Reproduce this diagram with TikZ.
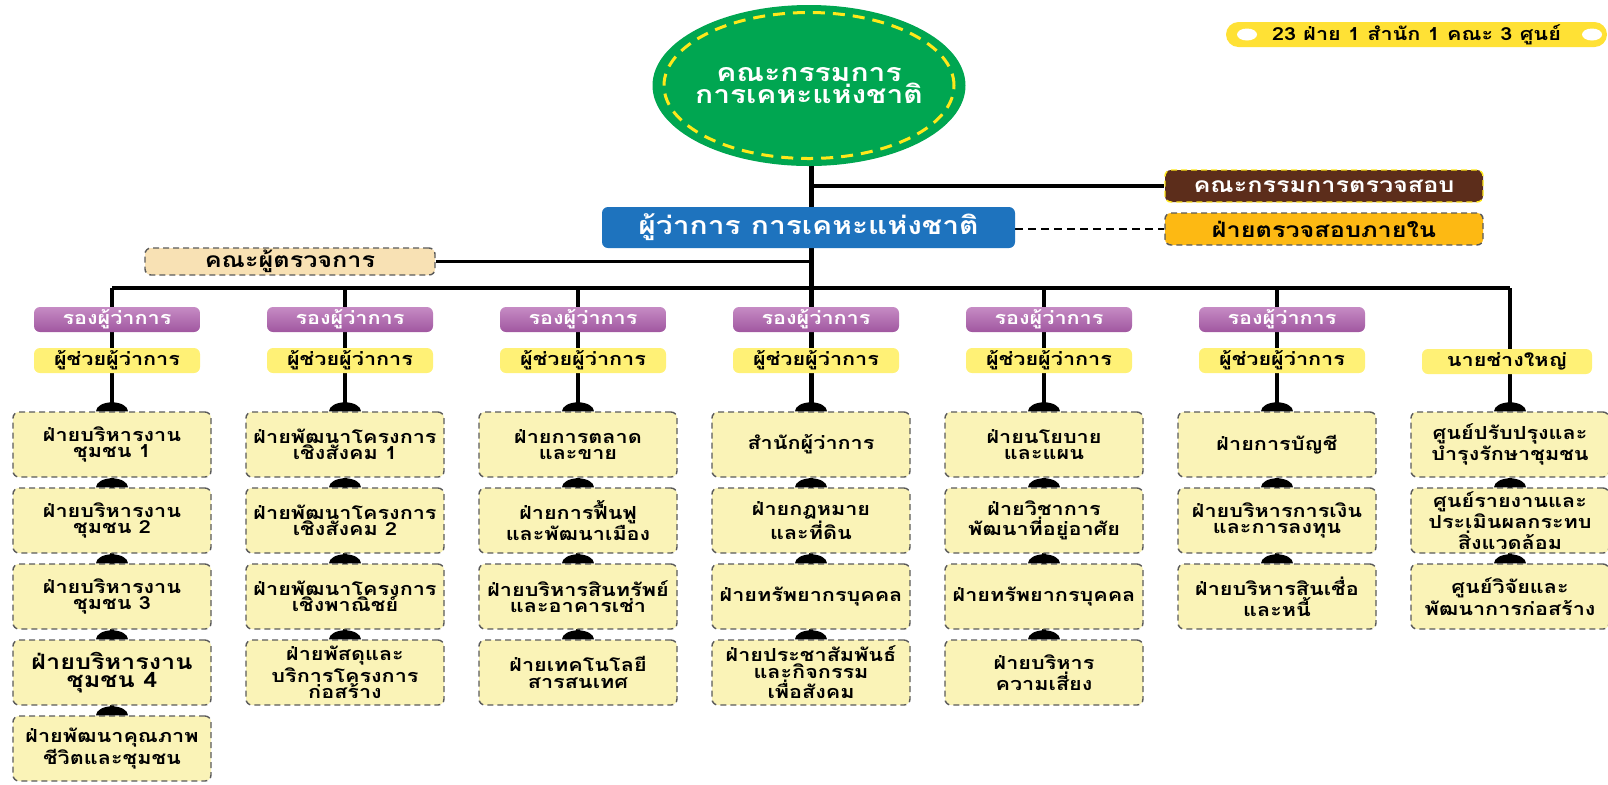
\documentclass[tikz,border=0pt]{standalone}
\usepackage{fontspec}
\newfontfamily\thai[Script=Thai,FakeStretch=1.2]{Loma}
\usetikzlibrary{backgrounds}
\definecolor{colorgr}{HTML}{00A651}
\definecolor{colorys}{HTML}{FFE81A}
\definecolor{colorbl}{HTML}{1E73BE}
\definecolor{colorbr}{HTML}{5C2D1B}
\definecolor{colorin}{HTML}{FDB913}
\definecolor{colorip}{HTML}{F8E1B4}
\definecolor{colorvt}{HTML}{C68BC4}
\definecolor{colorvb}{HTML}{A057A0}
\definecolor{coloras}{HTML}{FFF176}
\definecolor{colordp}{HTML}{FAF3B7}
\definecolor{colordh}{HTML}{5A5A5A}
\definecolor{colorpl}{HTML}{FFE135}
\tikzset{
  boxdept/.style={draw=colordh, dash pattern=on 3pt off 2pt, line width=0.7pt, fill=colordp,
    rounded corners=3pt, minimum width=99pt, minimum height=32.5pt, align=center, inner sep=1pt,
    font=\thai\bfseries\fontsize{9}{8.2}\selectfont},
  boxvice/.style={rounded corners=3pt, top color=colorvt, bottom color=colorvb, minimum width=83pt,
    minimum height=12.5pt, inner sep=0pt, text=white, font=\thai\bfseries\fontsize{9}{9}\selectfont},
  boxasst/.style={rounded corners=3pt, fill=coloras, minimum width=83pt, minimum height=12.5pt,
    inner sep=0pt, font=\thai\bfseries\fontsize{9}{9}\selectfont},
  boxaudit/.style={rounded corners=3pt, dash pattern=on 3pt off 2pt, line width=0.7pt,
    minimum width=159pt, minimum height=16pt, inner sep=0pt},
  edgeln/.style={black, line width=2pt},
  edgedash/.style={black, line width=0.8pt, dash pattern=on 4pt off 2.5pt}
}
\newcommand\capdome[1]{\fill ([xshift=-8pt]#1) arc[start angle=180, end angle=0, x radius=8pt, y radius=4.5pt];}

\begin{document}
\begin{tikzpicture}[x=0.5pt, y=-0.5pt]
\useasboundingbox (0,0) rectangle (1608,784);

\fill[colorgr] (809,85.5) ellipse[x radius=78.25pt, y radius=40.25pt];
\draw[colorys, line width=1.5pt, dash pattern=on 6pt off 4pt] (809,85.5) ellipse[x radius=72.5pt, y radius=36.5pt];
\node[align=center, text=white, font=\thai\bfseries\fontsize{12.5}{11}\selectfont] (c) at (809,85.5)
  {คณะกรรมการ\\การเคหะแห่งชาติ};

\node[rounded corners=6.25pt, fill=colorpl, minimum width=190.5pt, minimum height=12.5pt, inner sep=0pt,
  font=\thai\bfseries\fontsize{9}{9}\selectfont] (n) at (1416.5,34.5) {23 ฝ่าย 1 สำนัก 1 คณะ 3 ศูนย์};
\fill[white] (1247,34.5) ellipse[x radius=5pt, y radius=3pt];
\fill[white] (1592,34.5) ellipse[x radius=5pt, y radius=3pt];

\node[rounded corners=3pt, fill=colorbl, minimum width=206.5pt, minimum height=20.5pt, inner sep=0pt,
  text=white, font=\thai\bfseries\fontsize{12.5}{12.5}\selectfont] (g) at (808.5,227.5)
  {ผู้ว่าการ การเคหะแห่งชาติ};
\node[boxaudit, draw=colorys, fill=colorbr, text=white, font=\thai\bfseries\fontsize{10.5}{10.5}\selectfont]
  (ac) at (1324,186) {คณะกรรมการตรวจสอบ};
\node[boxaudit, draw=colordh, fill=colorin, font=\thai\bfseries\fontsize{10.5}{10.5}\selectfont]
  (ia) at (1324,229) {ฝ่ายตรวจสอบภายใน};
\node[boxaudit, draw=colordh, fill=colorip, minimum width=145pt, minimum height=13.5pt,
  font=\thai\bfseries\fontsize{10.5}{10.5}\selectfont] (ip) at (290,261.5) {คณะผู้ตรวจการ};

\coordinate (v1) at (112,288);
\coordinate (v2) at (345,288);
\coordinate (v3) at (578,288);
\coordinate (v4) at (811,288);
\coordinate (v5) at (1044,288);
\coordinate (v6) at (1277,288);
\coordinate (v7) at (1510,288);

\node[boxvice] (p1) at (117,319.5) {รองผู้ว่าการ};
\node[boxvice] (p2) at (350,319.5) {รองผู้ว่าการ};
\node[boxvice] (p3) at (583,319.5) {รองผู้ว่าการ};
\node[boxvice] (p4) at (816,319.5) {รองผู้ว่าการ};
\node[boxvice] (p5) at (1049,319.5) {รองผู้ว่าการ};
\node[boxvice] (p6) at (1282,319.5) {รองผู้ว่าการ};
\node[boxasst] (a1) at (117,360.5) {ผู้ช่วยผู้ว่าการ};
\node[boxasst] (a2) at (350,360.5) {ผู้ช่วยผู้ว่าการ};
\node[boxasst] (a3) at (583,360.5) {ผู้ช่วยผู้ว่าการ};
\node[boxasst] (a4) at (816,360.5) {ผู้ช่วยผู้ว่าการ};
\node[boxasst] (a5) at (1049,360.5) {ผู้ช่วยผู้ว่าการ};
\node[boxasst] (a6) at (1282,360.5) {ผู้ช่วยผู้ว่าการ};
\node[boxasst, minimum width=85pt] (a7) at (1507,361.5) {นายช่างใหญ่};

\node[boxdept] (d11) at (112,444.5) {ฝ่ายบริหารงาน\\ชุมชน 1};
\node[boxdept] (d12) at (112,520.5) {ฝ่ายบริหารงาน\\ชุมชน 2};
\node[boxdept] (d13) at (112,596.5) {ฝ่ายบริหารงาน\\ชุมชน 3};
\node[boxdept, font=\thai\bfseries\fontsize{10.5}{9.2}\selectfont] (d14) at (112,672.5) {ฝ่ายบริหารงาน\\ชุมชน 4};
\node[boxdept] (d15) at (112,748.5) {ฝ่ายพัฒนาคุณภาพ\\ชีวิตและชุมชน};

\node[boxdept] (d21) at (345,444.5) {ฝ่ายพัฒนาโครงการ\\เชิงสังคม 1};
\node[boxdept] (d22) at (345,520.5) {ฝ่ายพัฒนาโครงการ\\เชิงสังคม 2};
\node[boxdept] (d23) at (345,596.5) {ฝ่ายพัฒนาโครงการ\\เชิงพาณิชย์};
\node[boxdept] (d24) at (345,672.5) {ฝ่ายพัสดุและ\\บริการโครงการ\\ก่อสร้าง};

\node[boxdept] (d31) at (578,444.5) {ฝ่ายการตลาด\\และขาย};
\node[boxdept, font=\thai\bfseries\fontsize{9}{10.5}\selectfont] (d32) at (578,520.5) {ฝ่ายการฟื้นฟู\\และพัฒนาเมือง};
\node[boxdept] (d33) at (578,596.5) {ฝ่ายบริหารสินทรัพย์\\และอาคารเช่า};
\node[boxdept] (d34) at (578,672.5) {ฝ่ายเทคโนโลยี\\สารสนเทศ};

\node[boxdept] (d41) at (811,444.5) {สำนักผู้ว่าการ};
\node[boxdept] (d42) at (811,520.5) {ฝ่ายกฎหมาย\\และที่ดิน};
\node[boxdept] (d43) at (811,596.5) {ฝ่ายทรัพยากรบุคคล};
\node[boxdept] (d44) at (811,672.5) {ฝ่ายประชาสัมพันธ์\\และกิจกรรม\\เพื่อสังคม};

\node[boxdept] (d51) at (1044,444.5) {ฝ่ายนโยบาย\\และแผน};
\node[boxdept] (d52) at (1044,520.5) {ฝ่ายวิชาการ\\พัฒนาที่อยู่อาศัย};
\node[boxdept] (d53) at (1044,596.5) {ฝ่ายทรัพยากรบุคคล};
\node[boxdept] (d54) at (1044,672.5) {ฝ่ายบริหาร\\ความเสี่ยง};

\node[boxdept] (d61) at (1277,444.5) {ฝ่ายการบัญชี};
\node[boxdept] (d62) at (1277,520.5) {ฝ่ายบริหารการเงิน\\และการลงทุน};
\node[boxdept] (d63) at (1277,596.5) {ฝ่ายบริหารสินเชื่อ\\และหนี้};

\node[boxdept] (d71) at (1510,444.5) {ศูนย์ปรับปรุงและ\\บำรุงรักษาชุมชน};
\node[boxdept] (d72) at (1510,520.5) {ศูนย์รายงานและ\\ประเมินผลกระทบ\\สิ่งแวดล้อม};
\node[boxdept] (d73) at (1510,596.5) {ศูนย์วิจัยและ\\พัฒนาการก่อสร้าง};

\begin{scope}[on background layer]
\draw[edgeln, line width=2.5pt] (c.center -| v4) -- (d41);
\draw[edgeln, line width=1.8pt] (v4 |- ac) -- (ac);
\draw[edgedash] (g.east |- ia) -- (ia);
\draw[edgeln, line width=1.8pt] (ip) -- (ip -| v4);
\draw[edgeln] (v1) -- (v7);
\draw[edgeln] (v1) -- (d11) -- (d15);
\draw[edgeln] (v2) -- (d21) -- (d24);
\draw[edgeln] (v3) -- (d31) -- (d34);
\draw[edgeln] (d41) -- (d44);
\draw[edgeln] (v5) -- (d51) -- (d54);
\draw[edgeln] (v6) -- (d61) -- (d63);
\draw[edgeln] (v7) -- (d71) -- (d73);
\end{scope}

\capdome{d11.north} \capdome{d12.north} \capdome{d13.north} \capdome{d14.north} \capdome{d15.north}
\capdome{d21.north} \capdome{d22.north} \capdome{d23.north} \capdome{d24.north}
\capdome{d31.north} \capdome{d32.north} \capdome{d33.north} \capdome{d34.north}
\capdome{d41.north} \capdome{d42.north} \capdome{d43.north} \capdome{d44.north}
\capdome{d51.north} \capdome{d52.north} \capdome{d53.north} \capdome{d54.north}
\capdome{d61.north} \capdome{d62.north} \capdome{d63.north}
\capdome{d71.north} \capdome{d72.north} \capdome{d73.north}
\end{tikzpicture}
\end{document}
